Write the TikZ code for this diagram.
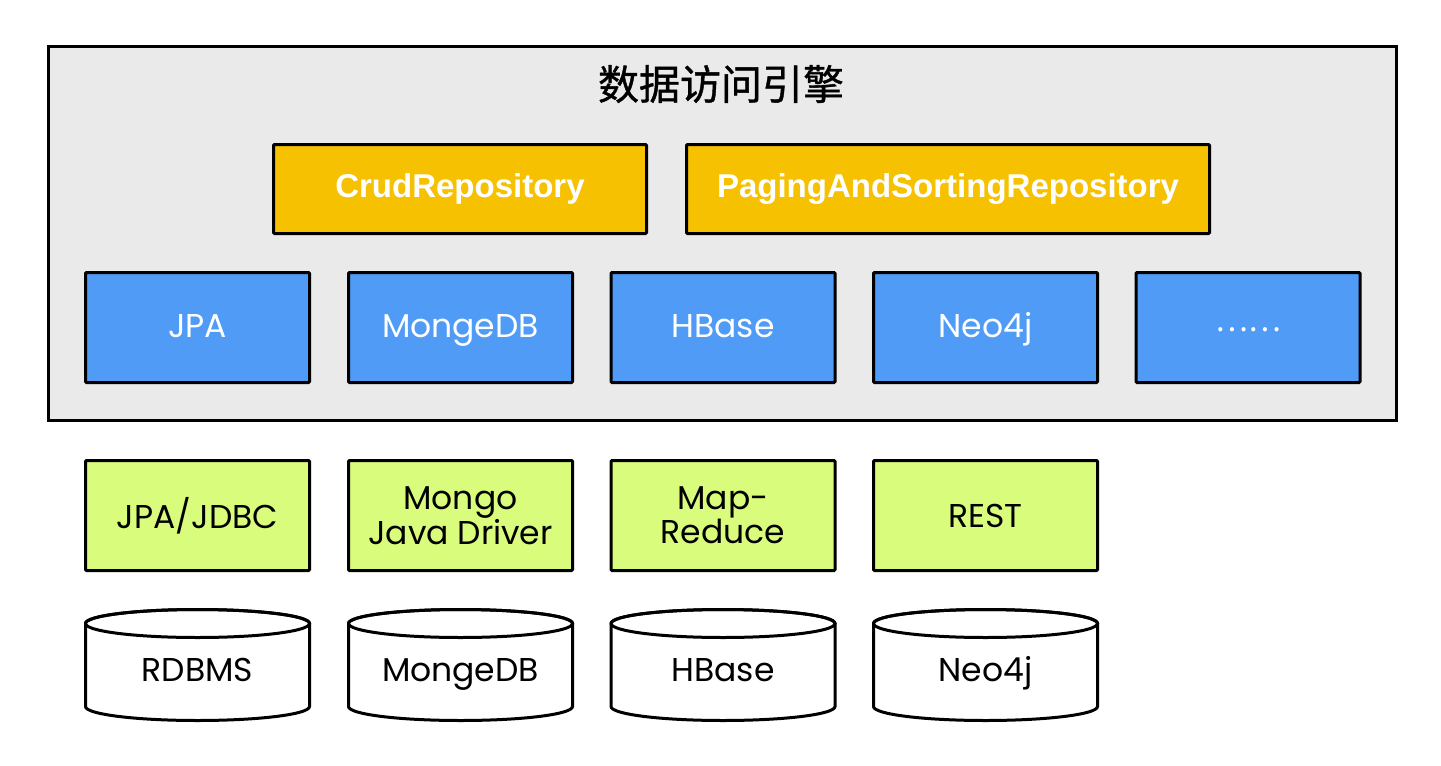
\documentclass[tikz,border=0pt]{standalone}
\usepackage{fontspec}
\setmainfont{Poppins}
\newfontfamily\cjkfont{Noto Sans CJK SC}[FakeBold=1]
\newfontfamily\dotfont{Noto Sans CJK SC}
\newfontfamily\repofont{Liberation Sans}
\usepackage{tikz}

\definecolor{enginegray}{HTML}{EAEAEA}
\definecolor{repoorange}{HTML}{F6C100}
\definecolor{storeblue}{HTML}{4F9BF5}
\definecolor{drivergreen}{HTML}{DAFC7C}

\begin{document}
\begin{tikzpicture}[x=1pt,y=-1pt,
  engine/.style={draw,line width=3pt,fill=enginegray,minimum width=1348pt,minimum height=374pt},
  repo/.style={draw,line width=3pt,rounded corners=1pt,fill=repoorange,text=white,
    font=\repofont\bfseries\fontsize{33}{36}\selectfont,minimum height=89pt},
  store/.style={draw,line width=3pt,rounded corners=1pt,fill=storeblue,text=white,
    font=\fontsize{33}{34}\selectfont,text height=27pt,text depth=7pt,
    minimum width=224pt,minimum height=110pt},
  driver/.style={draw,line width=3pt,rounded corners=1pt,fill=drivergreen,align=center,
    font=\fontsize{33}{32}\selectfont,minimum width=224pt,minimum height=110pt},
  db/.style={minimum width=227pt,minimum height=114pt,inner sep=0pt,
    font=\fontsize{33}{34}\selectfont,text height=40pt,text depth=7pt,
    path picture={
      \draw[line width=3pt,fill=white]
        ([shift={(1.5pt,-15.5pt)}]path picture bounding box.north west)
        -- ([shift={(1.5pt,15.5pt)}]path picture bounding box.south west)
        arc[start angle=180,end angle=360,x radius=112pt,y radius=14pt]
        -- ([shift={(-1.5pt,-15.5pt)}]path picture bounding box.north east)
        arc[start angle=0,end angle=180,x radius=112pt,y radius=14pt] -- cycle;
      \draw[line width=3pt] ([yshift=-15.5pt]path picture bounding box.north)
        ellipse[x radius=112pt,y radius=14pt];
    }}]
\useasboundingbox (0,0) rectangle (1441,766);

% engine
\node[engine](engine) at (722.5,233.5){};
\node[font=\cjkfont\fontsize{41}{44}\selectfont](title) at (721,84){数据访问引擎};

% repositories
\node[repo,minimum width=373pt](crud) at (460,189){CrudRepository};
\node[repo,minimum width=523pt](paging) at (948,189){PagingAndSortingRepository};

% stores
\node[store](jpa) at (197.5,327.5){JPA};
\node[store](mongo) at (460.5,327.5){MongeDB};
\node[store](hbase) at (723,327.5){HBase};
\node[store](neo) at (985.5,327.5){Neo4j};
\node[store,font=\dotfont\fontsize{31}{34}\selectfont,text depth=19pt](more) at (1248,327.5){……};

% drivers
\node[driver](jdbc) at (197.5,515.5){JPA/JDBC};
\node[driver](mongodriver) at (460.5,515.5){Mongo\\Java Driver};
\node[driver](mapreduce) at (723,515.5){Map-\\Reduce};
\node[driver](rest) at (985.5,515.5){REST};

% databases
\node[db](rdbms) at (197.5,665){RDBMS};
\node[db](mongodb) at (460.5,665){MongeDB};
\node[db](hbasedb) at (723,665){HBase};
\node[db](neodb) at (985.5,665){Neo4j};
\end{tikzpicture}
\end{document}
